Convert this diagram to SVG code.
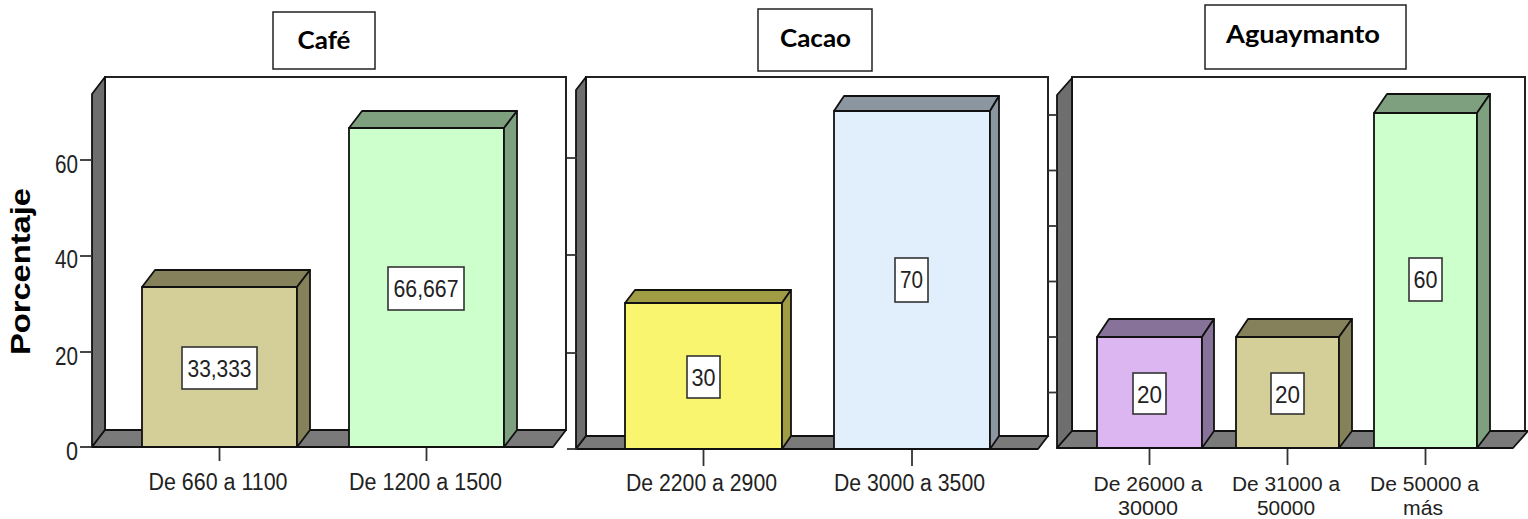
<svg xmlns="http://www.w3.org/2000/svg" width="1528" height="519" viewBox="0 0 1528 519">
<style>
.bg{fill:#ffffff}
.wall{fill:#ffffff;stroke:#222;stroke-width:2}
.side{fill:#6e6e6e;stroke:#111;stroke-width:1.8;stroke-linejoin:round}
.floor{fill:#7a7a7a;stroke:#111;stroke-width:1.8;stroke-linejoin:round}
.tick{stroke:#333;stroke-width:1.8}
.bar{stroke:#111;stroke-width:1.8;stroke-linejoin:round}
.vbox{fill:#fff;stroke:#333;stroke-width:1.6}
.val{font-family:"Liberation Sans",Arial,sans-serif;font-size:24px;fill:#222;text-anchor:middle}
.ax{font-family:"Liberation Sans",Arial,sans-serif;font-size:25px;fill:#222;text-anchor:end}
.cat{font-family:"Liberation Sans",Arial,sans-serif;font-size:23px;fill:#222;text-anchor:middle}
.cat2{font-family:"Liberation Sans",Arial,sans-serif;font-size:20px;fill:#222;text-anchor:middle}
.ttl{font-family:Lato,"Liberation Sans",sans-serif;font-weight:bold;font-size:25px;fill:#000;text-anchor:middle}
.tbox{fill:#fff;stroke:#222;stroke-width:1.5}
.ylab{font-family:"Liberation Sans",Arial,sans-serif;font-weight:bold;font-size:27px;fill:#000;text-anchor:middle}
.khF{fill:#d4cf98}.khD{fill:#85815a}
.grF{fill:#ccffcc}.grD{fill:#7fa07f}
.yeF{fill:#f9f56f}.yeD{fill:#a09c44}
.blF{fill:#e1eefb}.blD{fill:#8c96a0}
.puF{fill:#dcb6f0}.puD{fill:#87739a}
</style>
<rect class="bg" x="0" y="0" width="1528" height="519"/>

<text class="ylab" transform="translate(30,271.5) rotate(-90)" textLength="167" lengthAdjust="spacingAndGlyphs">Porcentaje</text>

<!-- Panel 1: Café -->
<g id="panel-cafe">
  <rect class="wall" x="105" y="77" width="461" height="353"/>
  <polygon class="side" points="92,447 92,94 105,77 105,430"/>
  <polygon class="floor" points="92,447 105,430 566,430 553,447"/>
  <line class="tick" x1="80" y1="447" x2="92" y2="447"/>
  <line class="tick" x1="80" y1="352" x2="92" y2="352"/>
  <line class="tick" x1="80" y1="256" x2="92" y2="256"/>
  <line class="tick" x1="80" y1="160" x2="92" y2="160"/>
  <text class="ax" x="78" y="460" textLength="12" lengthAdjust="spacingAndGlyphs">0</text>
  <text class="ax" x="78" y="365" textLength="23" lengthAdjust="spacingAndGlyphs">20</text>
  <text class="ax" x="78" y="268" textLength="23" lengthAdjust="spacingAndGlyphs">40</text>
  <text class="ax" x="78" y="173" textLength="23" lengthAdjust="spacingAndGlyphs">60</text>
  <line class="tick" x1="219.5" y1="447" x2="219.5" y2="461"/>
  <line class="tick" x1="426.5" y1="447" x2="426.5" y2="461"/>
  <text class="cat" x="218" y="490" textLength="139" lengthAdjust="spacingAndGlyphs">De 660 a 1100</text>
  <text class="cat" x="425.5" y="490" textLength="153" lengthAdjust="spacingAndGlyphs">De 1200 a 1500</text>
</g>
<g id="title-cafe">
  <rect class="tbox" x="273" y="12" width="102" height="57"/>
  <text class="ttl" x="324" y="49" textLength="53" lengthAdjust="spacingAndGlyphs">Café</text>
</g>
<g id="bar-cafe-1">
  <rect class="bar khF" x="142" y="287" width="155" height="160"/>
  <polygon class="bar khD" points="142,287 155,270 310,270 297,287"/>
  <polygon class="bar khD" points="297,287 310,270 310,430 297,447"/>
  <rect class="vbox" x="182" y="347" width="75" height="42"/>
  <text class="val" x="219.5" y="377" textLength="64" lengthAdjust="spacingAndGlyphs">33,333</text>
</g>
<g id="bar-cafe-2">
  <rect class="bar grF" x="349" y="128" width="155" height="319"/>
  <polygon class="bar grD" points="349,128 362,111 517,111 504,128"/>
  <polygon class="bar grD" points="504,128 517,111 517,430 504,447"/>
  <rect class="vbox" x="388" y="267" width="76" height="43"/>
  <text class="val" x="426" y="297" textLength="65" lengthAdjust="spacingAndGlyphs">66,667</text>
</g>

<!-- Panel 2: Cacao -->
<g id="panel-cacao">
  <rect class="wall" x="586" y="77" width="462" height="359"/>
  <polygon class="side" points="576,449 576,90 586,77 586,436"/>
  <polygon class="floor" points="576,449 586,436 1048,436 1038,449"/>
  <line class="tick" x1="567" y1="449" x2="577" y2="449"/>
  <line class="tick" x1="567" y1="353" x2="577" y2="353"/>
  <line class="tick" x1="567" y1="255" x2="577" y2="255"/>
  <line class="tick" x1="567" y1="158" x2="577" y2="158"/>
  <line class="tick" x1="703.5" y1="449" x2="703.5" y2="466"/>
  <line class="tick" x1="912" y1="449" x2="912" y2="466"/>
  <text class="cat" x="701.5" y="491" textLength="151" lengthAdjust="spacingAndGlyphs">De 2200 a 2900</text>
  <text class="cat" x="909.5" y="491" textLength="151" lengthAdjust="spacingAndGlyphs">De 3000 a 3500</text>
</g>
<g id="title-cacao">
  <rect class="tbox" x="758" y="9" width="114" height="62"/>
  <text class="ttl" x="815.5" y="47" textLength="71" lengthAdjust="spacingAndGlyphs">Cacao</text>
</g>
<g id="bar-cacao-1">
  <rect class="bar yeF" x="625" y="303" width="157" height="146"/>
  <polygon class="bar yeD" points="625,303 635,290 791,290 782,303"/>
  <polygon class="bar yeD" points="782,303 791,290 791,436 782,449"/>
  <rect class="vbox" x="687" y="356" width="33" height="42"/>
  <text class="val" x="703.5" y="386" textLength="24" lengthAdjust="spacingAndGlyphs">30</text>
</g>
<g id="bar-cacao-2">
  <rect class="bar blF" x="834" y="111" width="156" height="338"/>
  <polygon class="bar blD" points="834,111 844,96 999,96 990,111"/>
  <polygon class="bar blD" points="990,111 999,96 999,436 990,449"/>
  <rect class="vbox" x="895" y="258" width="33" height="44"/>
  <text class="val" x="911.5" y="288" textLength="23" lengthAdjust="spacingAndGlyphs">70</text>
</g>

<!-- Panel 3: Aguaymanto -->
<g id="panel-aguaymanto">
  <rect class="wall" x="1072" y="77" width="453" height="354"/>
  <polygon class="side" points="1057,448 1057,95 1072,78 1072,431"/>
  <polygon class="floor" points="1057,448 1072,431 1528,431 1513,448"/>
  <line class="tick" x1="1048" y1="392.5" x2="1057" y2="392.5"/>
  <line class="tick" x1="1048" y1="337" x2="1057" y2="337"/>
  <line class="tick" x1="1048" y1="281.5" x2="1057" y2="281.5"/>
  <line class="tick" x1="1048" y1="226" x2="1057" y2="226"/>
  <line class="tick" x1="1048" y1="170.5" x2="1057" y2="170.5"/>
  <line class="tick" x1="1048" y1="115" x2="1057" y2="115"/>
  <line class="tick" x1="1149.5" y1="448" x2="1149.5" y2="465"/>
  <line class="tick" x1="1287.5" y1="448" x2="1287.5" y2="465"/>
  <line class="tick" x1="1425.5" y1="448" x2="1425.5" y2="465"/>
  <text class="cat2" x="1148" y="491" textLength="109" lengthAdjust="spacingAndGlyphs">De 26000 a</text>
  <text class="cat2" x="1148" y="515" textLength="60" lengthAdjust="spacingAndGlyphs">30000</text>
  <text class="cat2" x="1286" y="491" textLength="108" lengthAdjust="spacingAndGlyphs">De 31000 a</text>
  <text class="cat2" x="1286" y="515" textLength="58" lengthAdjust="spacingAndGlyphs">50000</text>
  <text class="cat2" x="1424.5" y="491" textLength="109" lengthAdjust="spacingAndGlyphs">De 50000 a</text>
  <text class="cat2" x="1423" y="515" textLength="40" lengthAdjust="spacingAndGlyphs">más</text>
</g>
<g id="title-aguaymanto">
  <rect class="tbox" x="1205" y="5" width="201" height="64"/>
  <text class="ttl" x="1303" y="43" textLength="154" lengthAdjust="spacingAndGlyphs">Aguaymanto</text>
</g>
<g id="bar-agu-1">
  <rect class="bar puF" x="1097" y="337" width="105" height="111"/>
  <polygon class="bar puD" points="1097,337 1109,319 1214,319 1202,337"/>
  <polygon class="bar puD" points="1202,337 1214,319 1214,431 1202,448"/>
  <rect class="vbox" x="1133" y="373" width="33" height="41"/>
  <text class="val" x="1149.5" y="403" textLength="25" lengthAdjust="spacingAndGlyphs">20</text>
</g>
<g id="bar-agu-2">
  <rect class="bar khF" x="1236" y="337" width="103" height="111"/>
  <polygon class="bar khD" points="1236,337 1248,319 1352,319 1339,337"/>
  <polygon class="bar khD" points="1339,337 1352,319 1352,431 1339,448"/>
  <rect class="vbox" x="1271" y="373" width="33" height="41"/>
  <text class="val" x="1287.5" y="403" textLength="25" lengthAdjust="spacingAndGlyphs">20</text>
</g>
<g id="bar-agu-3">
  <rect class="bar grF" x="1374" y="113" width="103" height="335"/>
  <polygon class="bar grD" points="1374,113 1387,94 1490,94 1477,113"/>
  <polygon class="bar grD" points="1477,113 1490,94 1490,431 1477,448"/>
  <rect class="vbox" x="1409" y="258" width="33" height="43"/>
  <text class="val" x="1425.5" y="288" textLength="24" lengthAdjust="spacingAndGlyphs">60</text>
</g>
<g id="connectors"></g>
</svg>
